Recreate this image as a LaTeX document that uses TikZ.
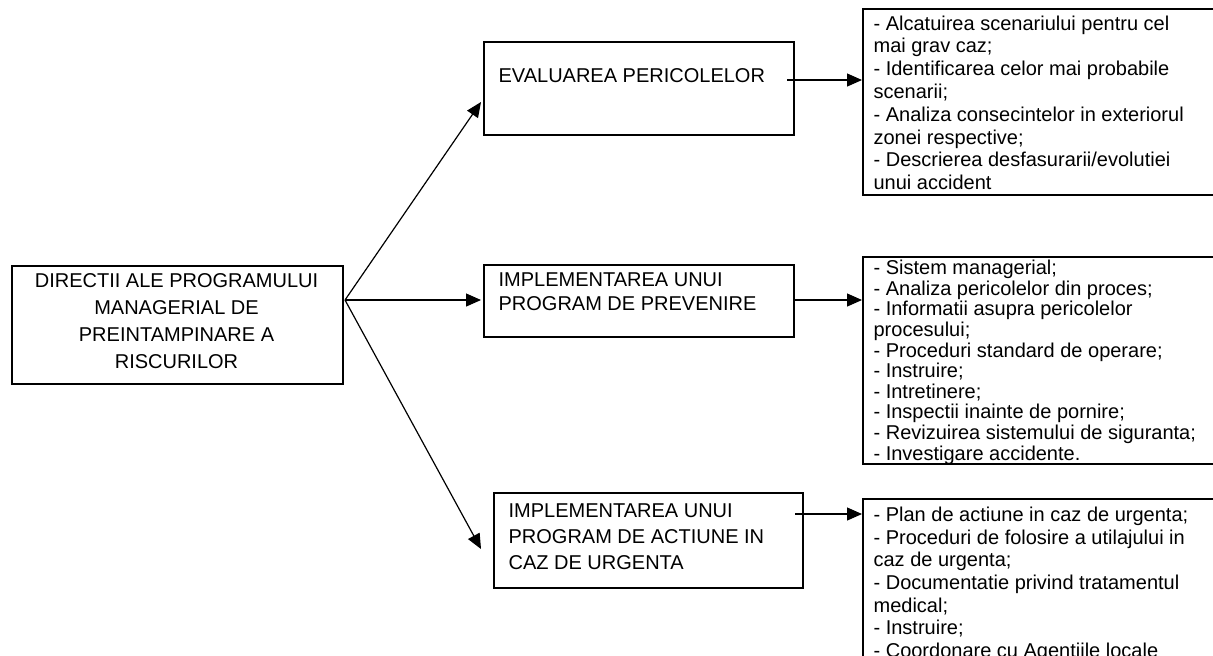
\documentclass[tikz,border=0pt]{standalone}
\usepackage{fontspec}
\setmainfont{Liberation Sans}
\usetikzlibrary{arrows.meta}
\newcommand{\fs}[1]{\fontsize{10}{#1}\selectfont}
\tikzset{
  every picture/.style={line width=0.6pt, >={Triangle[length=7.5pt,width=6.5pt]}},
  every node/.style={font=\fs{12pt}},
  % Casete
  box/.style={draw, rectangle, line width=1pt, inner sep=0pt, anchor=north west},
  lst/.style={box, minimum width=189pt},
  % Texte
  txt/.style={inner sep=0pt, anchor=north west, align=left},
  conn/.style={->},
}

\begin{document}
\begin{tikzpicture}[x=0.5pt, y=-0.5pt]
  \useasboundingbox (0,0) rectangle (1213,655);
  \clip (0,0) rectangle (1213,655);
  % Caseta principala
  \node[box, minimum width=165.5pt, minimum height=59pt] (dir) at (11,265) {};
  \node[txt, anchor=north, align=center, font=\fs{13.65pt}] (dirtxt) at (176.5,272.5)
    {DIRECTII ALE PROGRAMULUI\\MANAGERIAL DE\\PREINTAMPINARE A\\RISCURILOR};
  % Cele trei directii
  \node[box, minimum width=155pt, minimum height=46.5pt] (eval) at (483,41) {};
  \node[txt] (evaltxt) at (498,67.5) {EVALUAREA PERICOLELOR};
  \node[box, minimum width=155pt, minimum height=36pt] (prev) at (483,264) {};
  \node[txt, font=\fs{12pt}] (prevtxt) at (498,272.5)
    {IMPLEMENTAREA UNUI\\PROGRAM DE PREVENIRE};
  \node[box, minimum width=154.5pt, minimum height=47.5pt] (urg) at (493,492) {};
  \node[txt, font=\fs{13pt}] (urgtxt) at (508,503.5)
    {IMPLEMENTAREA UNUI\\PROGRAM DE ACTIUNE IN\\CAZ DE URGENTA};
  % Listele din dreapta
  \node[lst, minimum height=93pt] (lst1) at (862,8) {};
  \node[txt, font=\fs{11.4pt}] (lst1txt) at (873,15)
    {- Alcatuirea scenariului pentru cel\\mai grav caz;\\- Identificarea celor mai probabile\\scenarii;\\
     - Analiza consecintelor in exteriorul\\zonei respective;\\- Descrierea desfasurarii/evolutiei\\unui accident};
  \node[lst, minimum height=103.5pt] (lst2) at (862,256) {};
  \node[txt, font=\fs{10.3pt}] (lst2txt) at (873,259.5)
    {- Sistem managerial;\\- Analiza pericolelor din proces;\\- Informatii asupra pericolelor\\procesului;\\
     - Proceduri standard de operare;\\- Instruire;\\- Intretinere;\\- Inspectii inainte de pornire;\\
     - Revizuirea sistemului de siguranta;\\- Investigare accidente.};
  \node[lst, minimum height=101pt] (lst3) at (862,498) {};
  \node[txt, font=\fs{11.3pt}] (lst3txt) at (873,506.5)
    {- Plan de actiune in caz de urgenta;\\- Proceduri de folosire a utilajului in\\caz de urgenta;\\
     - Documentatie privind tratamentul\\medical;\\- Instruire;\\- Coordonare cu Agentiile locale};
  % Sageti din caseta principala
  \coordinate (src) at (345,300);
  \coordinate (tipE) at (481,102);
  \coordinate (tipP) at (481,300);
  \coordinate (tipU) at (481,549);
  \draw[conn] (src) -- (tipE);
  \draw[conn] (src) -- (tipP);
  \draw[conn] (src) -- (tipU);
  % Sageti spre liste
  \coordinate (a1) at (787,80);
  \coordinate (a2) at (795,300);
  \coordinate (a3) at (795,514);
  \draw[conn] (a1) -- (a1 -| lst1.west);
  \draw[conn] (a2) -- (a2 -| lst2.west);
  \draw[conn] (a3) -- (a3 -| lst3.west);
\end{tikzpicture}
\end{document}
